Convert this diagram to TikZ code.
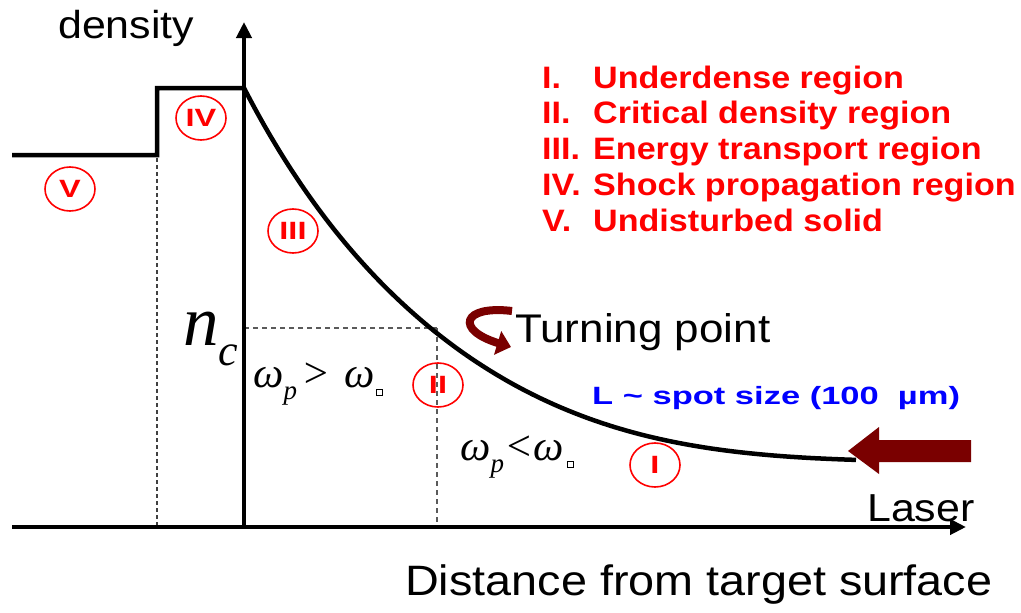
\documentclass[tikz,border=0pt]{standalone}
\usepackage{fontspec}
\usepackage{tikz}
\usetikzlibrary{arrows.meta,shapes.geometric}
\newfontfamily\labelfont[FakeStretch=1.1]{Liberation Sans}
\newfontfamily\spotfont[FakeStretch=1.38]{Liberation Sans}
\newfontfamily\romanfont[FakeStretch=1.3]{Liberation Sans}
\newfontfamily\greekfont{Liberation Serif}
\definecolor{maroon2}{RGB}{122,0,0}
\definecolor{red2}{RGB}{255,0,0}
\definecolor{blue2}{RGB}{0,0,255}
\definecolor{gray2}{RGB}{90,90,90}
\newcommand{\tinybox}{{\setlength{\fboxsep}{2.5pt}\setlength{\fboxrule}{1pt}\fbox{\rule{0pt}{0pt}}}}
\newcommand{\subp}{\raisebox{-12pt}{\fontsize{27}{27}\selectfont p}}
\tikzset{
  axisline/.style={line width=4pt, -{Triangle[length=16pt,width=15pt]}},
  profileline/.style={line width=4.5pt, line join=miter},
  guideline/.style={draw=gray2, line width=1.5pt, dash pattern=on 5pt off 4pt},
  regionmark/.style={ellipse, draw=red2, line width=1.6pt, minimum width=50pt, minimum height=44pt,
    inner sep=0pt, text=red2, font=\romanfont\bfseries\fontsize{25}{25}\selectfont},
  axislabel/.style={inner sep=0pt, anchor=base west, font=\labelfont\fontsize{39}{47}\selectfont},
  legendtext/.style={inner sep=0pt, anchor=base west, text=red2, font=\labelfont\bfseries\fontsize{31}{36}\selectfont},
  greeklabel/.style={inner sep=0pt, anchor=base west, font=\greekfont\itshape\fontsize{43}{50}\selectfont},
  laserarrow/.style={fill=maroon2, draw=none},
  turnarrow/.style={draw=maroon2, line width=8pt, -{Triangle[length=14pt,width=24pt]}}
}
\begin{document}
\begin{tikzpicture}[x=1pt, y=-1pt]
\fill[white] (0,0) rectangle (1021,613);
\useasboundingbox (0,0) rectangle (1021,613);

\coordinate (origin) at (244,527);
\coordinate (xstart) at (12,527);
\coordinate (xend) at (966,527);
\coordinate (ytop) at (244,22);
\coordinate (crit) at (437,328);

\draw[guideline, draw=black!75, dash pattern=on 4pt off 3pt] (157,158) -- (157,527);
\draw[guideline] (244,328) -- (crit);
\draw[guideline] (crit) -- (437,527);

\draw[axisline] (xstart) -- (xend);
\draw[axisline] (origin) -- (ytop);

\draw[profileline] (12,155) -- (157,155) -- (157,88) -- (244,88)
  -- plot[domain=244:856, samples=90, smooth]
     (\x, {462-374*exp(-0.0052*(\x-244)-0.0087*((\x-244)/100)^3)});

\fill[laserarrow] (971,440) -- (879,440) -- (879,427) -- (848,451) -- (879,474) -- (879,462) -- (971,462) -- cycle;
\draw[turnarrow] (512,311) .. controls (462,305) and (455,330) .. (511,347);

\node[regionmark] (regV) at (70,189) {V};
\node[regionmark] (regIV) at (201,118) {IV};
\node[regionmark] (regIII) at (293,231) {III};
\node[regionmark] (regII) at (438,385) {II};
\node[regionmark] (regI) at (655,465) {I};

\foreach \num/\txt [count=\i] in {I./Underdense region, II./Critical density region,
    III./Energy transport region, IV./Shock propagation region, V./Undisturbed solid} {
  \node[legendtext] (num\i) at (542,52.5+35.7*\i) {\num};
  \node[legendtext] (leg\i) at (593,52.5+35.7*\i) {\txt};
}

\node[axislabel] (ylabel) at (58,38) {density};
\node[axislabel] (laser) at (867,521) {Laser};
\node[axislabel, font=\labelfont\fontsize{42.5}{50}\selectfont] (xlabel) at (405,595) {Distance from target surface};
\node[axislabel, font=\labelfont\fontsize{40}{48}\selectfont] (turning) at (515,342) {Turning point};
\node[inner sep=0pt, anchor=base west, text=blue2, font=\spotfont\bfseries\fontsize{25}{30}\selectfont]
  (spot) at (592,404) {L \textasciitilde{} spot size (100~~µm)};

\node[inner sep=0pt, anchor=base west, font=\greekfont\itshape\fontsize{71}{80}\selectfont]
  (ncrit) at (183,345) {n\raisebox{-20pt}{\fontsize{44}{44}\selectfont c}};
\node[greeklabel] (over) at (253,387) {ω\subp\hspace{4pt}>\hspace{14pt}ω\hspace{2pt}\raisebox{-5pt}{\tinybox}};
\node[greeklabel] (under) at (460,460) {ω\subp<ω\hspace{4pt}\raisebox{-4pt}{\tinybox}};
\end{tikzpicture}
\end{document}
